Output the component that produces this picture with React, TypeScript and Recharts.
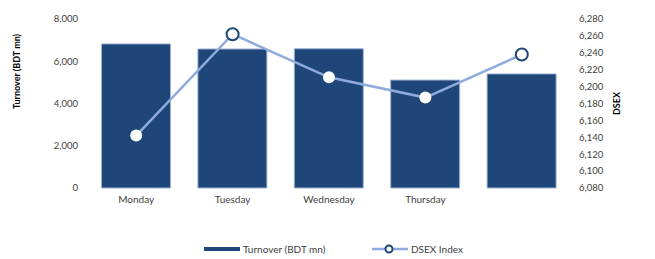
import React from "react";
import { ComposedChart, Bar, Line, XAxis, YAxis, Legend } from "recharts";

const categories = ["Monday", "Tuesday", "Wednesday", "Thursday", ""];
const turnover = [6820, 6580, 6590, 5110, 5400];
const dsex = [6142, 6262, 6211, 6187, 6238];
const leftTicks = [0, 2000, 4000, 6000, 8000];
const rightTicks = [6080, 6100, 6120, 6140, 6160, 6180, 6200, 6220, 6240, 6260, 6280];
const highlighted = [false, true, false, false, true];

const data = categories.map((c, i) => ({ name: c, turnover: turnover[i], dsex: dsex[i] }));

const BAR = "#1F4678";
const LINE = "#8FAADC";
const FONT = "Lato, 'DejaVu Sans', sans-serif";
const fmt = (v: number) => v.toLocaleString("en-US");

const Dot = (props: any) => {
  const { cx, cy, index } = props;
  if (cx == null || cy == null) return null;
  if (highlighted[index]) {
    return <circle key={index} cx={cx} cy={cy} r={6} fill="#fff" stroke={BAR} strokeWidth={2} />;
  }
  return <circle key={index} cx={cx} cy={cy} r={6} fill="#fff" stroke="none" />;
};

const LegendContent = () => (
  <div style={{ position: "relative", width: 655, height: 20, fontFamily: FONT, fontSize: 10, color: "#404040" }}>
    <div style={{ position: "absolute", left: 204, top: 9, width: 36, height: 4, background: BAR }} />
    <div style={{ position: "absolute", left: 243, top: 4, lineHeight: "14px", whiteSpace: "nowrap" }}>Turnover (BDT mn)</div>
    <svg style={{ position: "absolute", left: 370, top: 3 }} width={40} height={16}>
      <line x1={2} y1={8} x2={38} y2={8} stroke={LINE} strokeWidth={2.5} />
      <circle cx={19} cy={8} r={3.5} fill="#fff" stroke={BAR} strokeWidth={2} />
    </svg>
    <div style={{ position: "absolute", left: 411, top: 4, lineHeight: "14px", whiteSpace: "nowrap" }}>DSEX Index</div>
  </div>
);

export default function App() {
  return (
    <div style={{ position: "absolute", left: 0, top: 0, width: 655, height: 259, background: "#fff" }}>
      <ComposedChart
        width={655}
        height={259}
        data={data}
        margin={{ top: 19, right: 45, bottom: 21, left: 0 }}
        barCategoryGap="14%"
      >
        <XAxis
          dataKey="name"
          axisLine={false}
          tickLine={false}
          height={30}
          tick={{ fontSize: 10, fill: "#404040", fontFamily: FONT }}
          tickMargin={2}
          interval={0}
        />
        <YAxis
          yAxisId="left"
          width={88}
          domain={[0, 8000]}
          ticks={leftTicks}
          tickFormatter={fmt}
          axisLine={false}
          tickLine={false}
          tickMargin={4}
          tick={{ fontSize: 9.5, fill: "#404040", fontFamily: FONT }}
          label={{ value: "Turnover (BDT mn)", angle: -90, position: "insideLeft", dx: 12, dy: -32, style: { fontSize: 9, fontWeight: 700, fill: "#000", fontFamily: FONT, textAnchor: "middle" } }}
        />
        <YAxis
          yAxisId="right"
          orientation="right"
          width={40}
          domain={[6080, 6280]}
          ticks={rightTicks}
          tickFormatter={fmt}
          axisLine={false}
          tickLine={false}
          tickMargin={3}
          tick={{ fontSize: 9.5, fill: "#404040", fontFamily: FONT }}
          label={{ value: "DSEX", angle: -90, position: "insideRight", dx: 12, dy: 0, style: { fontSize: 9, fontWeight: 700, fill: "#000", fontFamily: FONT, textAnchor: "middle" } }}
        />
        <Legend verticalAlign="bottom" content={<LegendContent />} wrapperStyle={{ left: 0, top: 238, width: 655, height: 20 }} />
        <Bar yAxisId="left" dataKey="turnover" name="Turnover (BDT mn)" fill={BAR} stroke="#9DB3D6" strokeWidth={1} isAnimationActive={false} />
        <Line yAxisId="right" dataKey="dsex" name="DSEX Index" stroke={LINE} strokeWidth={2.5} dot={<Dot />} activeDot={false} isAnimationActive={false} />
      </ComposedChart>
    </div>
  );
}
